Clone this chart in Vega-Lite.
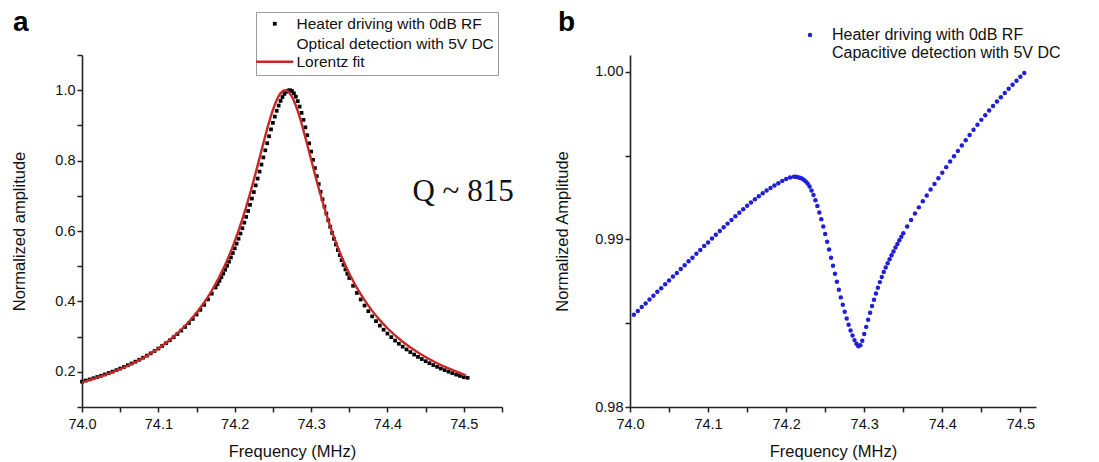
{
"$schema": "https://vega.github.io/schema/vega-lite/v6.json",
"background": "white",
"padding": {"left": 11, "top": 8, "right": 5, "bottom": 5},
"spacing": 40,
"config": {
  "view": {"stroke": null},
  "font": "Liberation Sans",
  "axis": {"domainColor": "#222", "domainWidth": 1.6, "tickColor": "#222", "tickWidth": 1.5, "tickSize": 5, "grid": false, "labelFont": "Liberation Sans", "labelFontSize": 14.5, "labelColor": "#111", "labelPadding": 2, "labelFlush": false, "labelOverlap": false, "titleFont": "Liberation Sans", "titleFontSize": 16.5, "titleFontWeight": "normal", "titleColor": "#111"},
  "title": {"font": "Liberation Sans", "fontSize": 28, "fontWeight": "bold", "anchor": "start", "frame": "group", "color": "#000", "baseline": "alphabetic"}
},
"resolve": {"scale": {"color": "independent", "shape": "independent"}, "legend": {"color": "independent", "shape": "independent"}},
"hconcat": [
{
  "width": 420, "height": 352,
  "title": {"text": "a", "dx": -69, "dy": 25, "offset": 0},
  "data": {"values": [
{"f":74.000,"v":0.1720,"series":"data"},{"f":74.005,"v":0.1751,"series":"data"},{"f":74.010,"v":0.1783,"series":"data"},{"f":74.015,"v":0.1817,"series":"data"},{"f":74.020,"v":0.1852,"series":"data"},{"f":74.025,"v":0.1888,"series":"data"},{"f":74.030,"v":0.1925,"series":"data"},{"f":74.035,"v":0.1965,"series":"data"},{"f":74.040,"v":0.2005,"series":"data"},{"f":74.045,"v":0.2047,"series":"data"},{"f":74.050,"v":0.2092,"series":"data"},{"f":74.055,"v":0.2137,"series":"data"},{"f":74.060,"v":0.2186,"series":"data"},{"f":74.065,"v":0.2236,"series":"data"},{"f":74.070,"v":0.2288,"series":"data"},{"f":74.075,"v":0.2343,"series":"data"},{"f":74.080,"v":0.2401,"series":"data"},{"f":74.085,"v":0.2461,"series":"data"},{"f":74.090,"v":0.2525,"series":"data"},{"f":74.095,"v":0.2591,"series":"data"},{"f":74.100,"v":0.2661,"series":"data"},{"f":74.105,"v":0.2735,"series":"data"},{"f":74.110,"v":0.2813,"series":"data"},{"f":74.115,"v":0.2895,"series":"data"},{"f":74.120,"v":0.2982,"series":"data"},{"f":74.125,"v":0.3074,"series":"data"},{"f":74.130,"v":0.3171,"series":"data"},{"f":74.135,"v":0.3275,"series":"data"},{"f":74.140,"v":0.3385,"series":"data"},{"f":74.145,"v":0.3502,"series":"data"},{"f":74.150,"v":0.3627,"series":"data"},{"f":74.155,"v":0.3761,"series":"data"},{"f":74.160,"v":0.3903,"series":"data"},{"f":74.165,"v":0.4057,"series":"data"},{"f":74.170,"v":0.4220,"series":"data"},{"f":74.175,"v":0.4396,"series":"data"},{"f":74.1775,"v":0.4490,"series":"data"},{"f":74.180,"v":0.4585,"series":"data"},{"f":74.1825,"v":0.4686,"series":"data"},{"f":74.185,"v":0.4791,"series":"data"},{"f":74.1875,"v":0.4899,"series":"data"},{"f":74.190,"v":0.5011,"series":"data"},{"f":74.1925,"v":0.5128,"series":"data"},{"f":74.195,"v":0.5248,"series":"data"},{"f":74.1975,"v":0.5375,"series":"data"},{"f":74.200,"v":0.5507,"series":"data"},{"f":74.2025,"v":0.5641,"series":"data"},{"f":74.205,"v":0.5782,"series":"data"},{"f":74.2075,"v":0.5928,"series":"data"},{"f":74.210,"v":0.6079,"series":"data"},{"f":74.2125,"v":0.6237,"series":"data"},{"f":74.215,"v":0.6402,"series":"data"},{"f":74.2175,"v":0.6569,"series":"data"},{"f":74.220,"v":0.6743,"series":"data"},{"f":74.2225,"v":0.6922,"series":"data"},{"f":74.225,"v":0.7107,"series":"data"},{"f":74.2275,"v":0.7297,"series":"data"},{"f":74.230,"v":0.7490,"series":"data"},{"f":74.2325,"v":0.7688,"series":"data"},{"f":74.235,"v":0.7888,"series":"data"},{"f":74.2375,"v":0.8090,"series":"data"},{"f":74.240,"v":0.8293,"series":"data"},{"f":74.2425,"v":0.8494,"series":"data"},{"f":74.245,"v":0.8693,"series":"data"},{"f":74.2475,"v":0.8887,"series":"data"},{"f":74.250,"v":0.9073,"series":"data"},{"f":74.2525,"v":0.9250,"series":"data"},{"f":74.255,"v":0.9415,"series":"data"},{"f":74.2575,"v":0.9564,"series":"data"},{"f":74.260,"v":0.9695,"series":"data"},{"f":74.2625,"v":0.9806,"series":"data"},{"f":74.265,"v":0.9893,"series":"data"},{"f":74.2675,"v":0.9955,"series":"data"},{"f":74.270,"v":0.9991,"series":"data"},{"f":74.2725,"v":1.0000,"series":"data"},{"f":74.275,"v":0.9974,"series":"data"},{"f":74.2775,"v":0.9912,"series":"data"},{"f":74.280,"v":0.9816,"series":"data"},{"f":74.2825,"v":0.9689,"series":"data"},{"f":74.285,"v":0.9534,"series":"data"},{"f":74.2875,"v":0.9355,"series":"data"},{"f":74.290,"v":0.9157,"series":"data"},{"f":74.2925,"v":0.8944,"series":"data"},{"f":74.295,"v":0.8721,"series":"data"},{"f":74.2975,"v":0.8491,"series":"data"},{"f":74.300,"v":0.8256,"series":"data"},{"f":74.3025,"v":0.8021,"series":"data"},{"f":74.305,"v":0.7788,"series":"data"},{"f":74.3075,"v":0.7558,"series":"data"},{"f":74.310,"v":0.7333,"series":"data"},{"f":74.3125,"v":0.7114,"series":"data"},{"f":74.315,"v":0.6900,"series":"data"},{"f":74.3175,"v":0.6694,"series":"data"},{"f":74.320,"v":0.6496,"series":"data"},{"f":74.3225,"v":0.6305,"series":"data"},{"f":74.325,"v":0.6122,"series":"data"},{"f":74.3275,"v":0.5946,"series":"data"},{"f":74.330,"v":0.5777,"series":"data"},{"f":74.3325,"v":0.5616,"series":"data"},{"f":74.335,"v":0.5460,"series":"data"},{"f":74.3375,"v":0.5313,"series":"data"},{"f":74.340,"v":0.5171,"series":"data"},{"f":74.3425,"v":0.5036,"series":"data"},{"f":74.345,"v":0.4907,"series":"data"},{"f":74.3475,"v":0.4784,"series":"data"},{"f":74.350,"v":0.4665,"series":"data"},{"f":74.355,"v":0.4444,"series":"data"},{"f":74.360,"v":0.4241,"series":"data"},{"f":74.365,"v":0.4054,"series":"data"},{"f":74.370,"v":0.3882,"series":"data"},{"f":74.375,"v":0.3722,"series":"data"},{"f":74.380,"v":0.3575,"series":"data"},{"f":74.385,"v":0.3439,"series":"data"},{"f":74.390,"v":0.3313,"series":"data"},{"f":74.395,"v":0.3195,"series":"data"},{"f":74.400,"v":0.3086,"series":"data"},{"f":74.405,"v":0.2984,"series":"data"},{"f":74.410,"v":0.2887,"series":"data"},{"f":74.415,"v":0.2798,"series":"data"},{"f":74.420,"v":0.2714,"series":"data"},{"f":74.425,"v":0.2635,"series":"data"},{"f":74.430,"v":0.2560,"series":"data"},{"f":74.435,"v":0.2490,"series":"data"},{"f":74.440,"v":0.2424,"series":"data"},{"f":74.445,"v":0.2361,"series":"data"},{"f":74.450,"v":0.2301,"series":"data"},{"f":74.455,"v":0.2245,"series":"data"},{"f":74.460,"v":0.2192,"series":"data"},{"f":74.465,"v":0.2141,"series":"data"},{"f":74.470,"v":0.2093,"series":"data"},{"f":74.475,"v":0.2047,"series":"data"},{"f":74.480,"v":0.2004,"series":"data"},{"f":74.485,"v":0.1961,"series":"data"},{"f":74.490,"v":0.1921,"series":"data"},{"f":74.495,"v":0.1883,"series":"data"},{"f":74.500,"v":0.1847,"series":"data"},{"f":74.505,"v":0.1830,"series":"data"},
{"f":74.000,"v":0.1699,"series":"fit"},{"f":74.020,"v":0.1832,"series":"fit"},{"f":74.040,"v":0.1988,"series":"fit"},{"f":74.060,"v":0.2172,"series":"fit"},{"f":74.080,"v":0.2393,"series":"fit"},{"f":74.100,"v":0.2662,"series":"fit"},{"f":74.120,"v":0.2996,"series":"fit"},{"f":74.140,"v":0.3420,"series":"fit"},{"f":74.160,"v":0.3970,"series":"fit"},{"f":74.170,"v":0.4310,"series":"fit"},{"f":74.180,"v":0.4705,"series":"fit"},{"f":74.190,"v":0.5165,"series":"fit"},{"f":74.200,"v":0.5705,"series":"fit"},{"f":74.210,"v":0.6336,"series":"fit"},{"f":74.220,"v":0.7059,"series":"fit"},{"f":74.225,"v":0.7454,"series":"fit"},{"f":74.230,"v":0.7864,"series":"fit"},{"f":74.235,"v":0.8285,"series":"fit"},{"f":74.240,"v":0.8699,"series":"fit"},{"f":74.245,"v":0.9092,"series":"fit"},{"f":74.250,"v":0.9442,"series":"fit"},{"f":74.255,"v":0.9724,"series":"fit"},{"f":74.260,"v":0.9916,"series":"fit"},{"f":74.266,"v":1.0000,"series":"fit"},{"f":74.270,"v":0.9962,"series":"fit"},{"f":74.275,"v":0.9813,"series":"fit"},{"f":74.280,"v":0.9564,"series":"fit"},{"f":74.285,"v":0.9239,"series":"fit"},{"f":74.290,"v":0.8860,"series":"fit"},{"f":74.295,"v":0.8452,"series":"fit"},{"f":74.300,"v":0.8033,"series":"fit"},{"f":74.305,"v":0.7617,"series":"fit"},{"f":74.310,"v":0.7215,"series":"fit"},{"f":74.320,"v":0.6473,"series":"fit"},{"f":74.330,"v":0.5824,"series":"fit"},{"f":74.340,"v":0.5267,"series":"fit"},{"f":74.350,"v":0.4791,"series":"fit"},{"f":74.360,"v":0.4384,"series":"fit"},{"f":74.370,"v":0.4034,"series":"fit"},{"f":74.380,"v":0.3731,"series":"fit"},{"f":74.390,"v":0.3468,"series":"fit"},{"f":74.400,"v":0.3237,"series":"fit"},{"f":74.420,"v":0.2853,"series":"fit"},{"f":74.440,"v":0.2548,"series":"fit"},{"f":74.460,"v":0.2300,"series":"fit"},{"f":74.480,"v":0.2095,"series":"fit"},{"f":74.500,"v":0.1923,"series":"fit"},{"f":74.503,"v":0.1899,"series":"fit"}
  ]},
  "encoding": {
    "x": {"field": "f", "type": "quantitative", "scale": {"domain": [74.0, 74.55], "nice": false, "zero": false},
      "axis": {"title": "Frequency (MHz)", "values": [74.0,74.05,74.1,74.15,74.2,74.25,74.3,74.35,74.4,74.45,74.5,74.55], "labelExpr": "round(datum.value*100) % 10 == 0 ? format(datum.value, '.1f') : ''", "labelPadding": 5, "titlePadding": 13}},
    "y": {"field": "v", "type": "quantitative", "scale": {"domain": [0.1, 1.1], "nice": false, "zero": false},
      "axis": {"title": "Normalized amplitude", "values": [0.1,0.2,0.3,0.4,0.5,0.6,0.7,0.8,0.9,1.0,1.1], "labelExpr": "(round(datum.value*10) % 2 == 0 && datum.value > 0.15 && datum.value < 1.05) ? format(datum.value, '.1f') : ''", "titlePadding": 27}},
    "color": {"field": "series", "type": "nominal", "scale": {"domain": ["data", "fit"], "range": ["#000000", "#c62828"]},
      "legend": {"orient": "none", "legendX": 174, "legendY": -43, "title": null, "direction": "vertical", "labelFontSize": 15.5, "labelColor": "#111", "labelLimit": 400,
        "labelExpr": "datum.value == 'fit' ? 'Lorentz fit' : ['Heater driving with 0dB RF', 'Optical detection with 5V DC']",
        "strokeColor": "#999", "fillColor": "white", "padding": 4, "symbolOffset": 7, "labelOffset": 14, "symbolSize": 30, "rowPadding": 1,
        "encode": {"labels": {"update": {"lineHeight": {"value": 20}}}, "symbols": {"update": {"size": {"signal": "datum.value == 'fit' ? 1370 : 14"}, "stroke": {"signal": "datum.value == 'fit' ? '#c62828' : '#000000'"}, "strokeWidth": {"signal": "datum.value == 'fit' ? 2.5 : 0"}, "fill": {"value": "#000000"}}}}}}
  },
  "layer": [
    {"transform": [{"filter": "datum.series == 'data'"}],
     "mark": {"type": "point", "filled": true, "size": 14, "opacity": 1},
     "encoding": {"shape": {"field": "series", "type": "nominal", "scale": {"domain": ["data", "fit"], "range": ["square", "stroke"]},
       "legend": {"orient": "none", "legendX": 174, "legendY": -43, "title": null, "direction": "vertical", "labelFontSize": 15.5, "labelColor": "#111", "labelLimit": 400,
        "labelExpr": "datum.value == 'fit' ? 'Lorentz fit' : ['Heater driving with 0dB RF', 'Optical detection with 5V DC']",
        "strokeColor": "#999", "fillColor": "white", "padding": 4, "symbolOffset": 7, "labelOffset": 14, "symbolSize": 30, "rowPadding": 1,
        "encode": {"labels": {"update": {"lineHeight": {"value": 20}}}, "symbols": {"update": {"size": {"signal": "datum.value == 'fit' ? 1370 : 14"}, "stroke": {"signal": "datum.value == 'fit' ? '#c62828' : '#000000'"}, "strokeWidth": {"signal": "datum.value == 'fit' ? 2.5 : 0"}, "fill": {"value": "#000000"}}}}}}}},
    {"transform": [{"filter": "datum.series == 'fit'"}],
     "mark": {"type": "line", "strokeWidth": 2.4, "interpolate": "monotone"}},
    {"data": {"values": [{"f": 74.499, "v": 0.711, "label": "Q ~ 815"}]},
     "mark": {"type": "text", "font": "Liberation Serif", "fontSize": 31, "align": "center", "baseline": "middle"},
     "encoding": {"text": {"field": "label"}, "color": {"value": "#111"}}}
  ]
},
{
  "width": 406, "height": 352,
  "title": {"text": "b", "dx": -72, "dy": 10, "offset": 0},
  "data": {"values": [
{"f":74.005,"v":0.98550},{"f":74.010,"v":0.98573},{"f":74.015,"v":0.98596},{"f":74.020,"v":0.98618},{"f":74.025,"v":0.98641},{"f":74.030,"v":0.98664},{"f":74.035,"v":0.98687},{"f":74.040,"v":0.98709},{"f":74.045,"v":0.98732},{"f":74.050,"v":0.98755},{"f":74.055,"v":0.98778},{"f":74.060,"v":0.98800},{"f":74.065,"v":0.98823},{"f":74.070,"v":0.98846},{"f":74.075,"v":0.98869},{"f":74.080,"v":0.98891},{"f":74.085,"v":0.98914},{"f":74.090,"v":0.98937},{"f":74.095,"v":0.98960},{"f":74.100,"v":0.98982},{"f":74.105,"v":0.99005},{"f":74.110,"v":0.99027},{"f":74.115,"v":0.99050},{"f":74.120,"v":0.99072},{"f":74.125,"v":0.99094},{"f":74.130,"v":0.99116},{"f":74.135,"v":0.99138},{"f":74.140,"v":0.99159},{"f":74.145,"v":0.99180},{"f":74.150,"v":0.99200},{"f":74.155,"v":0.99220},{"f":74.160,"v":0.99239},{"f":74.165,"v":0.99257},{"f":74.170,"v":0.99275},{"f":74.175,"v":0.99292},{"f":74.180,"v":0.99307},{"f":74.185,"v":0.99321},{"f":74.190,"v":0.99335},{"f":74.195,"v":0.99349},{"f":74.200,"v":0.99360},{"f":74.205,"v":0.99369},
{"f":74.2100,"v":0.99373},{"f":74.2125,"v":0.99373},{"f":74.2150,"v":0.99371},{"f":74.2175,"v":0.99368},{"f":74.2200,"v":0.99363},{"f":74.2225,"v":0.99356},{"f":74.2250,"v":0.99346},{"f":74.2275,"v":0.99333},{"f":74.2300,"v":0.99315},{"f":74.2325,"v":0.99292},{"f":74.2350,"v":0.99265},{"f":74.2375,"v":0.99234},{"f":74.2400,"v":0.99199},{"f":74.2425,"v":0.99161},{"f":74.2450,"v":0.99120},{"f":74.2475,"v":0.99077},{"f":74.2500,"v":0.99032},{"f":74.2525,"v":0.98986},{"f":74.2550,"v":0.98939},{"f":74.2575,"v":0.98891},{"f":74.2600,"v":0.98843},{"f":74.2625,"v":0.98795},{"f":74.2650,"v":0.98747},{"f":74.2675,"v":0.98700},{"f":74.2700,"v":0.98654},{"f":74.2725,"v":0.98610},{"f":74.2750,"v":0.98568},{"f":74.2775,"v":0.98528},{"f":74.2800,"v":0.98491},{"f":74.2825,"v":0.98457},{"f":74.2850,"v":0.98426},{"f":74.2875,"v":0.98399},{"f":74.2900,"v":0.98378},{"f":74.2925,"v":0.98363},{"f":74.2950,"v":0.98368},{"f":74.2975,"v":0.98395},{"f":74.3000,"v":0.98435},{"f":74.3025,"v":0.98478},{"f":74.3050,"v":0.98521},{"f":74.3075,"v":0.98562},{"f":74.3100,"v":0.98602},{"f":74.3125,"v":0.98640},{"f":74.3150,"v":0.98677},{"f":74.3175,"v":0.98712},{"f":74.3200,"v":0.98745},{"f":74.3225,"v":0.98776},{"f":74.3250,"v":0.98805},{"f":74.3275,"v":0.98832},{"f":74.3300,"v":0.98857},{"f":74.3325,"v":0.98882},{"f":74.3350,"v":0.98905},{"f":74.3375,"v":0.98928},{"f":74.3400,"v":0.98951},{"f":74.3425,"v":0.98973},{"f":74.3450,"v":0.98995},{"f":74.3475,"v":0.99016},{"f":74.3500,"v":0.99037},
{"f":74.355,"v":0.99077},{"f":74.360,"v":0.99116},{"f":74.365,"v":0.99154},{"f":74.370,"v":0.99191},{"f":74.375,"v":0.99227},{"f":74.380,"v":0.99262},{"f":74.385,"v":0.99297},{"f":74.390,"v":0.99331},{"f":74.395,"v":0.99365},{"f":74.400,"v":0.99398},{"f":74.405,"v":0.99431},{"f":74.410,"v":0.99464},{"f":74.415,"v":0.99496},{"f":74.420,"v":0.99528},{"f":74.425,"v":0.99560},{"f":74.430,"v":0.99592},{"f":74.435,"v":0.99623},{"f":74.440,"v":0.99654},{"f":74.445,"v":0.99684},{"f":74.450,"v":0.99713},{"f":74.455,"v":0.99741},{"f":74.460,"v":0.99769},{"f":74.465,"v":0.99796},{"f":74.470,"v":0.99822},{"f":74.475,"v":0.99848},{"f":74.480,"v":0.99873},{"f":74.485,"v":0.99898},{"f":74.490,"v":0.99922},{"f":74.495,"v":0.99946},{"f":74.500,"v":0.99970},{"f":74.505,"v":0.99993}
  ]},
  "mark": {"type": "point", "filled": true, "shape": "circle", "size": 20, "opacity": 1},
  "encoding": {
    "x": {"field": "f", "type": "quantitative", "scale": {"domain": [74.0, 74.52], "nice": false, "zero": false},
      "axis": {"title": "Frequency (MHz)", "values": [74.0,74.05,74.1,74.15,74.2,74.25,74.3,74.35,74.4,74.45,74.5], "labelExpr": "round(datum.value*100) % 10 == 0 ? format(datum.value, '.1f') : ''", "labelPadding": 5, "titlePadding": 13}},
    "y": {"field": "v", "type": "quantitative", "scale": {"domain": [0.98, 1.001], "nice": false, "zero": false},
      "axis": {"title": "Normalized Amplitude", "values": [0.98, 0.985, 0.99, 0.995, 1.0], "labelExpr": "round(datum.value*1000) % 10 == 0 ? format(datum.value, '.2f') : ''", "titlePadding": 24}},
    "color": {"datum": "Heater driving with 0dB RF", "type": "nominal", "scale": {"range": ["#1f1fd8"]},
      "legend": {"orient": "none", "legendX": 172, "legendY": -28, "title": null, "labelFontSize": 16, "labelColor": "#111", "labelLimit": 400, "symbolType": "circle", "symbolSize": 20, "labelOffset": 14, "padding": 0,
        "labelExpr": "['Heater driving with 0dB RF', 'Capacitive detection with 5V DC']",
        "encode": {"labels": {"update": {"lineHeight": {"value": 20}}}}}}
  }
}
]
}
